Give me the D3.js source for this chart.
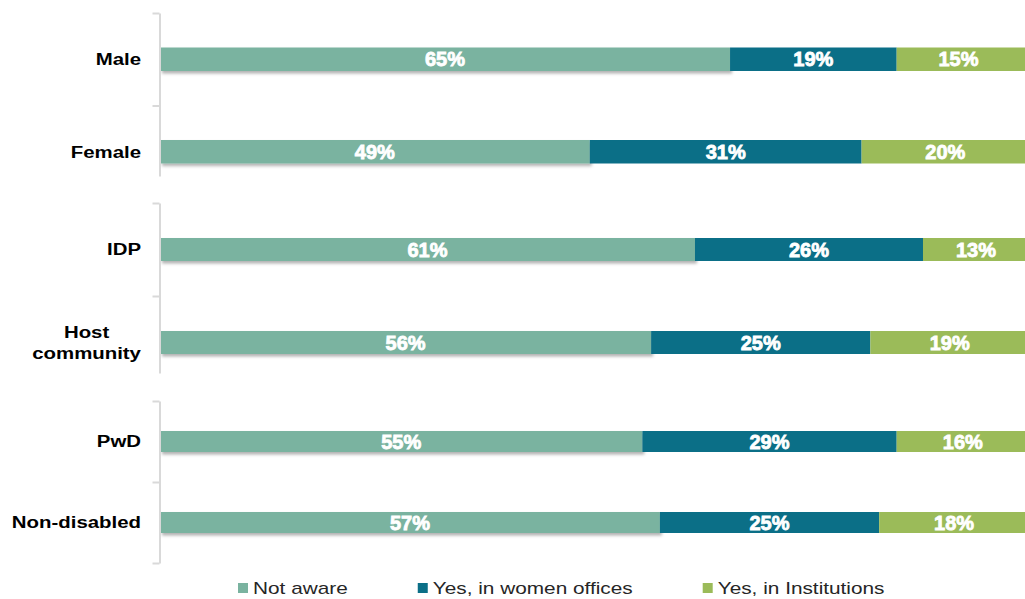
<!DOCTYPE html>
<html>
<head>
<meta charset="utf-8">
<script src="https://cdn.jsdelivr.net/npm/d3@7"></script>
<style>
  html, body { margin: 0; padding: 0; background: #fff; }
  svg { display: block; font-family: "Liberation Sans", Arial, sans-serif; }
</style>
</head>
<body>
<svg id="chart" width="1025" height="599"></svg>
<script>
// Awareness of where to report, by respondent group (percent of respondents)
const categories   = ["Male", "Female", "IDP", "Host community", "PwD", "Non-disabled"];
const notAware     = [65, 49, 61, 56, 55, 57];
const womenOffices = [19, 31, 26, 25, 29, 25];
const institutions = [15, 20, 13, 19, 16, 18];
const seriesNames  = ["Not aware", "Yes, in women offices", "Yes, in Institutions"];
const groups = [["Male", "Female"], ["IDP", "Host community"], ["PwD", "Non-disabled"]];

const colors = ["#7ab3a0", "#0b6f87", "#9bbb59"];

// panel layout: top of each band block, band step, bar thickness, end of axis line
const panels = [
  { top: 13,  step: 92.5, bar: 23.5, axisEnd: 176, endTick: false },
  { top: 203, step: 93,   bar: 23,   axisEnd: 373, endTick: false },
  { top: 401, step: 81,   bar: 21,   axisEnd: 563, endTick: true  }
];

const svg = d3.select("#chart");
const labelStretch = 1.2;    // wide glyph rendering for category labels
const legendStretch = 1.3;   // and for legend entries

const defs = svg.append("defs");
const shadow = defs.append("filter").attr("id", "barShadow")
  .attr("x", "-5%").attr("y", "-40%").attr("width", "115%").attr("height", "190%");
shadow.append("feDropShadow").attr("dx", 2).attr("dy", 2.5)
  .attr("stdDeviation", 1.8).attr("flood-color", "#000").attr("flood-opacity", 0.3);

const x = d3.scaleLinear().domain([0, 100]).range([160, 1037]);

const rows = categories.map((c, i) => ({
  category: c,
  "Not aware": notAware[i],
  "Yes, in women offices": womenOffices[i],
  "Yes, in Institutions": institutions[i]
}));
const stacked = d3.stack().keys(seriesNames)(rows);
const color = d3.scaleOrdinal().domain(seriesNames).range(colors);

const axisColor = "#d9d9d9";

panels.forEach((p, gi) => {
  const y = d3.scaleBand()
    .domain(groups[gi])
    .range([p.top, p.top + p.step * groups[gi].length])
    .paddingInner(1 - p.bar / p.step)
    .paddingOuter((1 - p.bar / p.step) / 2);

  const g = svg.append("g");

  // bars for this panel, drawn in series order so the first segment's shadow sits under the rest
  stacked.forEach((layer, si) => {
    const pts = layer.filter(d => groups[gi].includes(d.data.category));
    g.selectAll(null).data(pts).enter().append("rect")
      .attr("x", d => x(d[0]))
      .attr("y", d => y(d.data.category))
      .attr("width", d => x(d[1]) - x(d[0]))
      .attr("height", y.bandwidth())
      .attr("fill", color(layer.key))
      .attr("filter", si === 0 ? "url(#barShadow)" : null);
  });

  // value labels
  stacked.forEach(layer => {
    const pts = layer.filter(d => groups[gi].includes(d.data.category));
    g.selectAll(null).data(pts).enter().append("text")
      .attr("x", d => (x(d[0]) + x(Math.min(d[1], 100))) / 2 + (d[1] > 98 ? -4 : 0))
      .attr("y", d => y(d.data.category) + y.bandwidth() / 2)
      .attr("dy", "0.36em")
      .attr("text-anchor", "middle")
      .attr("fill", "#fff")
      .attr("stroke", "#fff").attr("stroke-width", 0.8)
      .attr("font-weight", "bold")
      .attr("font-size", 20)
      .text(d => (d[1] - d[0]) + "%");
  });

  // category axis: vertical rule with ticks at band boundaries
  const bounds = d3.range(groups[gi].length + (p.endTick ? 1 : 0)).map(i => p.top + i * y.step());
  const axisScale = d3.scaleLinear().domain([p.top, p.axisEnd]).range([p.top, p.axisEnd]);
  const axisG = svg.append("g").attr("transform", "translate(159.5,0)")
    .call(d3.axisLeft(axisScale).tickValues(bounds).tickSize(7).tickSizeOuter(0).tickFormat(""));
  axisG.select(".domain").attr("stroke", axisColor).attr("stroke-width", 2);
  axisG.selectAll(".tick line").attr("stroke", axisColor).attr("stroke-width", 2);

  // category labels
  groups[gi].forEach(cat => {
    const cy = y(cat) + y.bandwidth() / 2;
    const words = cat === "Host community" ? ["Host", "community"] : [cat];
    const t = svg.append("text")
      .attr("font-weight", "bold").attr("font-size", 17).attr("fill", "#000");
    if (words.length === 1) {
      t.attr("text-anchor", "end")
        .attr("transform", `translate(141,${cy}) scale(${labelStretch},1)`)
        .attr("dy", "0.35em").text(cat);
    } else {
      const lh = 21.5;
      words.forEach((w, k) => {
        t.append("tspan").attr("x", 0)
          .attr("y", (k - (words.length - 1) / 2) * lh)
          .attr("dy", "0.35em").text(w);
      });
      t.attr("text-anchor", "middle");
      const wMax = d3.max(t.selectAll("tspan").nodes(), n => n.getComputedTextLength()) * labelStretch;
      t.attr("transform", `translate(${141 - wMax / 2},${cy}) scale(${labelStretch},1)`);
    }
  });
});

// legend
const legend = svg.append("g").attr("transform", "translate(238,588)");
let lx = 0;
seriesNames.forEach((name, i) => {
  const item = legend.append("g").attr("transform", `translate(${lx},0)`);
  item.append("rect").attr("x", 0).attr("y", -5).attr("width", 10).attr("height", 10)
    .attr("fill", colors[i]);
  const t = item.append("text")
    .attr("transform", `translate(15,0) scale(${legendStretch},1)`)
    .attr("dy", "0.35em").attr("font-size", 16).attr("fill", "#262626").text(name);
  lx += 15 + t.node().getComputedTextLength() * legendStretch + 70;
});
</script>
</body>
</html>
